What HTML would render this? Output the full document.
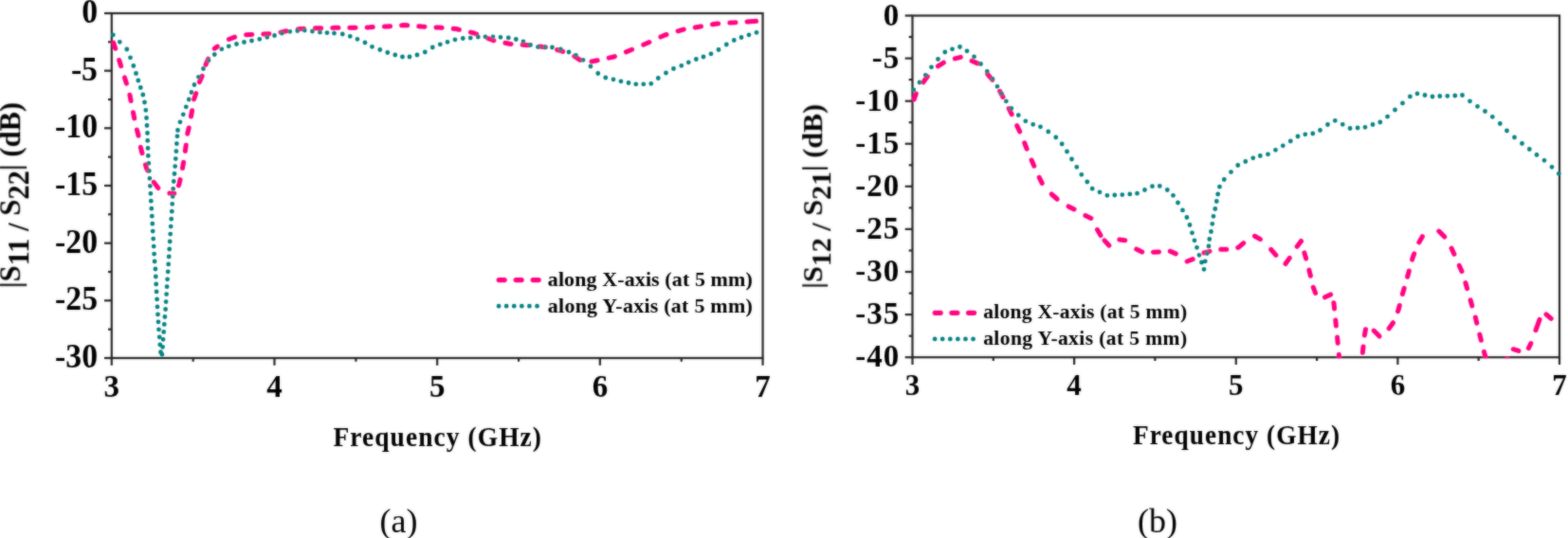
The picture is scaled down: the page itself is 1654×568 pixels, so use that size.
<!DOCTYPE html>
<html lang="en">
<head>
<meta charset="utf-8">
<title>S-parameters versus frequency</title>
<style>
html,body{margin:0;padding:0;background:#ffffff;}
body{width:1654px;height:568px;overflow:hidden;font-family:"Liberation Serif",serif;}
svg{display:block;}
</style>
</head>
<body>
<svg width="1654" height="568" viewBox="0 0 1654 568">
<rect x="0" y="0" width="1654" height="568" fill="#ffffff"/>
<defs><filter id="soft" x="0" y="0" width="1654" height="568" filterUnits="userSpaceOnUse"><feGaussianBlur in="SourceGraphic" stdDeviation="0.8" result="b"/><feComposite in="SourceGraphic" in2="b" operator="arithmetic" k1="0" k2="0.45" k3="0.55" k4="0"/></filter></defs>
<g filter="url(#soft)">
<g stroke="#262626" stroke-width="2.2" fill="none" stroke-linecap="butt">
<rect x="117.8" y="14" width="686.8000000000001" height="364"/>
<line x1="117.8" y1="378" x2="117.8" y2="385.8"/>
<line x1="203.7" y1="378" x2="203.7" y2="381.8"/>
<line x1="289.5" y1="378" x2="289.5" y2="385.8"/>
<line x1="375.4" y1="378" x2="375.4" y2="381.8"/>
<line x1="461.2" y1="378" x2="461.2" y2="385.8"/>
<line x1="547.1" y1="378" x2="547.1" y2="381.8"/>
<line x1="632.9" y1="378" x2="632.9" y2="385.8"/>
<line x1="718.8" y1="378" x2="718.8" y2="381.8"/>
<line x1="804.6" y1="378" x2="804.6" y2="385.8"/>
<line x1="117.8" y1="14.0" x2="110.0" y2="14.0"/>
<line x1="117.8" y1="44.3" x2="114.0" y2="44.3"/>
<line x1="117.8" y1="74.7" x2="110.0" y2="74.7"/>
<line x1="117.8" y1="105.0" x2="114.0" y2="105.0"/>
<line x1="117.8" y1="135.3" x2="110.0" y2="135.3"/>
<line x1="117.8" y1="165.7" x2="114.0" y2="165.7"/>
<line x1="117.8" y1="196.0" x2="110.0" y2="196.0"/>
<line x1="117.8" y1="226.3" x2="114.0" y2="226.3"/>
<line x1="117.8" y1="256.7" x2="110.0" y2="256.7"/>
<line x1="117.8" y1="287.0" x2="114.0" y2="287.0"/>
<line x1="117.8" y1="317.3" x2="110.0" y2="317.3"/>
<line x1="117.8" y1="347.7" x2="114.0" y2="347.7"/>
<line x1="117.8" y1="378.0" x2="110.0" y2="378.0"/>
</g>
<g font-family="'Liberation Serif', serif" font-weight="bold" font-size="33.75" letter-spacing="0" fill="#000">
<text x="117.8" y="419" text-anchor="middle" letter-spacing="0" font-size="33">3</text>
<text x="289.5" y="419" text-anchor="middle" letter-spacing="0" font-size="33">4</text>
<text x="461.2" y="419" text-anchor="middle" letter-spacing="0" font-size="33">5</text>
<text x="632.9" y="419" text-anchor="middle" letter-spacing="0" font-size="33">6</text>
<text x="804.6" y="419" text-anchor="middle" letter-spacing="0" font-size="33">7</text>
<text transform="translate(103,23.9) scale(1,1.035)" text-anchor="end">0</text>
<text transform="translate(103,84.6) scale(1,1.035)" text-anchor="end">-5</text>
<text transform="translate(103,145.2) scale(1,1.035)" text-anchor="end">-10</text>
<text transform="translate(103,205.9) scale(1,1.035)" text-anchor="end">-15</text>
<text transform="translate(103,266.6) scale(1,1.035)" text-anchor="end">-20</text>
<text transform="translate(103,327.2) scale(1,1.035)" text-anchor="end">-25</text>
<text transform="translate(103,387.9) scale(1,1.035)" text-anchor="end">-30</text>
</g>
<g stroke="#262626" stroke-width="2.2" fill="none" stroke-linecap="butt">
<rect x="962.5" y="16.5" width="682.5" height="360.7"/>
<line x1="962.5" y1="377.2" x2="962.5" y2="385.0"/>
<line x1="1047.8" y1="377.2" x2="1047.8" y2="381.0"/>
<line x1="1133.1" y1="377.2" x2="1133.1" y2="385.0"/>
<line x1="1218.4" y1="377.2" x2="1218.4" y2="381.0"/>
<line x1="1303.8" y1="377.2" x2="1303.8" y2="385.0"/>
<line x1="1389.1" y1="377.2" x2="1389.1" y2="381.0"/>
<line x1="1474.4" y1="377.2" x2="1474.4" y2="385.0"/>
<line x1="1559.7" y1="377.2" x2="1559.7" y2="381.0"/>
<line x1="1645.0" y1="377.2" x2="1645.0" y2="385.0"/>
<line x1="962.5" y1="16.5" x2="954.7" y2="16.5"/>
<line x1="962.5" y1="39.0" x2="958.7" y2="39.0"/>
<line x1="962.5" y1="61.6" x2="954.7" y2="61.6"/>
<line x1="962.5" y1="84.1" x2="958.7" y2="84.1"/>
<line x1="962.5" y1="106.7" x2="954.7" y2="106.7"/>
<line x1="962.5" y1="129.2" x2="958.7" y2="129.2"/>
<line x1="962.5" y1="151.8" x2="954.7" y2="151.8"/>
<line x1="962.5" y1="174.3" x2="958.7" y2="174.3"/>
<line x1="962.5" y1="196.8" x2="954.7" y2="196.8"/>
<line x1="962.5" y1="219.4" x2="958.7" y2="219.4"/>
<line x1="962.5" y1="241.9" x2="954.7" y2="241.9"/>
<line x1="962.5" y1="264.5" x2="958.7" y2="264.5"/>
<line x1="962.5" y1="287.0" x2="954.7" y2="287.0"/>
<line x1="962.5" y1="309.6" x2="958.7" y2="309.6"/>
<line x1="962.5" y1="332.1" x2="954.7" y2="332.1"/>
<line x1="962.5" y1="354.7" x2="958.7" y2="354.7"/>
<line x1="962.5" y1="377.2" x2="954.7" y2="377.2"/>
</g>
<g font-family="'Liberation Serif', serif" font-weight="bold" font-size="33" letter-spacing="1.0" fill="#000">
<text x="962.5" y="417" text-anchor="middle" letter-spacing="0" font-size="31">3</text>
<text x="1133.1" y="417" text-anchor="middle" letter-spacing="0" font-size="31">4</text>
<text x="1303.8" y="417" text-anchor="middle" letter-spacing="0" font-size="31">5</text>
<text x="1474.4" y="417" text-anchor="middle" letter-spacing="0" font-size="31">6</text>
<text x="1645.0" y="417" text-anchor="middle" letter-spacing="0" font-size="31">7</text>
<text transform="translate(949.3,26.6) scale(1,1.0)" text-anchor="end">0</text>
<text transform="translate(949.3,71.6) scale(1,1.0)" text-anchor="end">-5</text>
<text transform="translate(949.3,116.7) scale(1,1.0)" text-anchor="end">-10</text>
<text transform="translate(949.3,161.8) scale(1,1.0)" text-anchor="end">-15</text>
<text transform="translate(949.3,206.9) scale(1,1.0)" text-anchor="end">-20</text>
<text transform="translate(949.3,252.0) scale(1,1.0)" text-anchor="end">-25</text>
<text transform="translate(949.3,297.1) scale(1,1.0)" text-anchor="end">-30</text>
<text transform="translate(949.3,342.2) scale(1,1.0)" text-anchor="end">-35</text>
<text transform="translate(949.3,387.3) scale(1,1.0)" text-anchor="end">-40</text>
</g>
<clipPath id="ca"><rect x="114.8" y="14" width="692.8000000000001" height="365"/></clipPath>
<g clip-path="url(#ca)" fill="none" stroke-linejoin="round">
<path d="M119.7,45.1 L121.7,51.3M125.7,63.5 L127.6,69.7M131.5,81.9 L133.4,88.1M136.9,100.3 L138.1,106.5M140.5,118.7 L141.7,124.9M144.4,137.1 L145.5,141.0 L146.0,143.3M148.4,155.5 L148.8,157.5 L150.0,161.7M153.5,173.9 L154.5,177.5 L155.8,180.1M162.1,192.3 L166.9,198.5M178.9,204.0 L183.8,204.3" stroke="#ff0080" stroke-width="5.0" stroke-linecap="round"/>
<path d="M188.4,195.8 L188.8,195.0 L190.0,189.6M192.5,177.6 L192.5,177.5 L193.6,171.4M195.4,159.4 L196.2,153.2M197.8,141.2 L198.0,140.0 L199.2,135.0M201.5,123.0 L202.6,116.8M204.6,104.8 L206.7,98.6M210.4,86.6 L213.1,80.4M217.0,68.4 L219.6,62.2" stroke="#ff0080" stroke-width="5.0" stroke-linecap="round"/>
<path d="M226.3,51.3 L229.4,49.1M241.4,41.5 L247.6,39.2M259.6,36.7 L265.8,36.4M277.8,36.1 L284.0,35.7M296.0,34.1 L302.2,32.8M314.3,30.7 L320.5,30.2M332.5,29.7 L338.7,29.7M350.7,29.4 L353.8,29.3 L356.9,29.3M368.9,29.3 L371.3,29.3 L375.1,29.2M387.1,28.9 L390.0,28.8 L393.3,28.6M405.4,28.1 L407.5,28.0 L411.6,27.7M423.6,26.7 L426.3,26.5 L429.8,26.8M441.8,27.7 L445.0,28.0 L448.0,28.2M460.0,28.9 L462.5,29.0 L466.2,29.3M478.2,30.3 L481.3,30.5 L484.4,31.3M496.5,34.1 L500.0,35.0 L502.7,36.0M514.7,40.5 L520.0,42.5 L520.9,42.7M532.9,45.3 L537.5,46.3 L539.1,46.4M551.1,47.2 L555.0,47.5 L557.3,47.8M569.3,49.1 L572.5,49.5 L575.5,49.8M587.6,52.5 L592.5,53.8 L593.8,54.3M605.8,59.3 L612.0,63.3M624.0,65.0 L630.0,63.8 L630.2,63.8M642.2,61.1 L647.5,60.0 L648.4,59.6M660.4,54.8 L665.0,53.0 L666.6,52.3M678.7,47.2 L683.8,45.0 L684.9,44.5M696.9,39.0 L701.3,37.0 L703.1,36.5M715.1,32.8 L720.0,31.3 L721.3,31.1M733.3,29.0 L737.5,28.3 L739.5,27.9M751.5,25.8 L756.3,25.0 L757.7,24.9M769.8,24.1 L775.0,23.8 L776.0,23.7M788.0,22.9 L793.8,22.5 L794.2,22.5" stroke="#ff0080" stroke-width="5.0" stroke-linecap="round"/>
<path d="M794.5,22.5 L797.6,22.3" stroke="#ff0080" stroke-width="5.0" stroke-linecap="round"/>
<path d="M119.3,36.8h0.01M126.3,44.3h0.01M133.8,52.0h0.01M137.5,60.8h0.01M140.8,69.5h0.01M143.5,77.5h0.01M145.8,85.0h0.01M148.3,92.5h0.01M150.8,100.0h0.01M152.5,108.0h0.01M153.8,116.3h0.01M154.5,124.5h0.01M155.0,132.5h0.01" stroke="#007f80" stroke-width="4.8" stroke-linecap="round"/>
<path d="M155.5,140.5h0.01M155.7,148.4h0.01M156.0,156.4h0.01M156.3,164.4h0.01M156.8,172.4h0.01M157.3,180.3h0.01M157.9,188.3h0.01M158.4,196.3h0.01M158.9,204.3h0.01M159.3,212.2h0.01M159.8,220.2h0.01M160.3,228.2h0.01M160.8,236.2h0.01M161.2,244.1h0.01M161.7,252.1h0.01M162.2,260.1h0.01M162.6,268.1h0.01M163.1,276.0h0.01M163.9,284.0h0.01M164.3,292.0h0.01M164.7,300.0h0.01M165.1,307.9h0.01M165.6,315.9h0.01M166.0,323.9h0.01M166.5,331.9h0.01M167.0,339.8h0.01M167.5,347.8h0.01M168.2,355.8h0.01M168.8,363.8h0.01M169.5,371.7h0.01" stroke="#007f80" stroke-width="4.8" stroke-linecap="round"/>
<path d="M186.4,151.7h0.01M185.9,159.7h0.01M185.3,167.6h0.01M184.7,175.6h0.01M184.0,183.5h0.01M183.3,191.5h0.01M182.7,199.4h0.01M182.2,207.4h0.01M181.7,215.3h0.01M181.3,223.2h0.01M180.7,231.2h0.01M180.2,239.1h0.01M179.7,247.1h0.01M179.2,255.0h0.01M178.7,263.0h0.01M178.2,270.9h0.01M177.7,278.9h0.01M177.2,286.8h0.01M176.6,294.8h0.01M176.1,302.7h0.01M175.6,310.6h0.01M175.1,318.6h0.01M174.6,326.5h0.01M173.9,334.5h0.01M173.3,342.4h0.01M172.7,350.4h0.01M172.1,358.3h0.01M171.6,366.3h0.01M170.9,374.2h0.01" stroke="#007f80" stroke-width="4.8" stroke-linecap="round"/>
<path d="M187.0,143.8h0.01M187.5,137.5h0.01M190.0,128.8h0.01M193.3,120.8h0.01M196.3,112.8h0.01M199.3,105.0h0.01M202.0,97.5h0.01M205.0,89.5h0.01M209.5,81.3h0.01M214.5,72.5h0.01M220.0,63.8h0.01M226.3,57.5h0.01M233.8,51.8h0.01M241.3,48.8h0.01M249.5,46.5h0.01M257.5,44.5h0.01M265.5,43.0h0.01M273.8,41.3h0.01M281.8,39.3h0.01M289.5,37.5h0.01M297.5,35.0h0.01M305.8,33.3h0.01M313.8,32.5h0.01M321.3,32.0h0.01M329.5,33.0h0.01M337.5,34.0h0.01M345.0,34.6h0.01M352.5,35.0h0.01M361.3,36.0h0.01M369.3,38.3h0.01M377.0,41.3h0.01M385.0,45.0h0.01M392.5,49.3h0.01M400.8,52.5h0.01M408.8,55.5h0.01M416.8,58.0h0.01M424.5,60.0h0.01M432.0,60.0h0.01M440.0,58.0h0.01M448.3,55.0h0.01M456.3,50.0h0.01M464.3,46.8h0.01M472.0,44.3h0.01M480.0,41.8h0.01M488.3,40.5h0.01M496.3,40.0h0.01M504.3,39.0h0.01M512.0,38.8h0.01M520.0,38.8h0.01M528.0,39.3h0.01M536.3,40.0h0.01M544.3,41.5h0.01M552.0,43.8h0.01M559.5,47.5h0.01M567.5,49.6h0.01M575.0,49.8h0.01M582.5,50.0h0.01M591.3,52.0h0.01M600.0,55.0h0.01M607.5,58.3h0.01M615.0,63.3h0.01M623.0,70.0h0.01M630.8,77.5h0.01M638.8,82.0h0.01M647.0,83.8h0.01M655.0,85.8h0.01M663.0,87.5h0.01M670.8,88.8h0.01M678.8,88.8h0.01M686.8,88.3h0.01M694.3,82.5h0.01M702.5,77.0h0.01M710.5,72.5h0.01M718.8,69.3h0.01M726.3,65.8h0.01M734.3,62.5h0.01M742.0,60.0h0.01M750.0,56.8h0.01M758.0,52.5h0.01M766.3,47.0h0.01M774.3,42.5h0.01M782.0,39.5h0.01M790.0,36.8h0.01M798.0,34.3h0.01" stroke="#007f80" stroke-width="4.8" stroke-linecap="round"/>
</g>
<clipPath id="cb"><rect x="959.5" y="16.5" width="688.5" height="361.7"/></clipPath>
<g clip-path="url(#cb)" fill="none" stroke-linejoin="round">
<path d="M964.2,105.0 L966.3,98.9M973.9,86.8 L978.3,80.7M989.4,69.8 L995.0,66.3 L995.4,66.1M1007.3,61.9 L1013.3,60.4M1025.1,64.2 L1031.1,66.9M1041.6,78.2 L1046.9,84.3M1054.6,96.3 L1058.0,102.5M1064.2,114.5 L1067.2,120.7M1072.7,132.7 L1075.7,138.9M1080.7,150.9 L1081.3,152.5 L1083.1,157.1M1088.1,169.1 L1090.8,175.2M1096.2,187.3 L1096.3,187.5 L1099.2,193.4M1109.2,205.0 L1115.0,210.0 L1115.2,210.2M1127.1,217.9 L1133.1,220.9M1144.9,227.5 L1150.9,230.5M1157.5,242.5 L1161.0,248.6" stroke="#ff0080" stroke-width="5.0" stroke-linecap="round"/>
<path d="M1165.0,253.9 L1170.0,259.2" stroke="#ff0080" stroke-width="5.0" stroke-linecap="round"/>
<path d="M1180.8,253.1 L1186.8,253.8M1198.7,263.1 L1204.7,266.1M1216.5,266.2 L1222.5,265.9M1234.3,265.2 L1240.3,267.9M1252.2,276.0 L1258.2,273.7M1270.0,267.0 L1270.0,267.0 L1276.0,265.3M1287.8,263.3 L1293.8,263.3M1305.7,261.4 L1306.3,261.3 L1311.7,256.7M1323.5,249.3 L1329.5,252.6M1340.7,263.3 L1345.9,269.4M1356.0,278.5 L1360.3,272.4M1368.2,260.3 L1372.5,254.5 L1372.6,254.8M1375.9,266.9 L1377.7,273.0M1380.9,285.1 L1382.4,291.2M1385.3,303.3 L1387.6,309.4M1397.6,313.8 L1403.6,310.9" stroke="#ff0080" stroke-width="5.0" stroke-linecap="round"/>
<path d="M1406.9,319.7 L1407.0,320.0 L1407.6,325.9M1408.8,337.9 L1409.4,344.0M1410.6,356.1 L1411.2,362.2M1412.3,374.3 L1412.5,377.0" stroke="#ff0080" stroke-width="5.0" stroke-linecap="round"/>
<path d="M1437.4,372.2 L1438.0,366.0M1439.4,354.0 L1440.5,347.8" stroke="#ff0080" stroke-width="5.0" stroke-linecap="round"/>
<path d="M1449.1,349.1 L1455.1,355.1" stroke="#ff0080" stroke-width="5.0" stroke-linecap="round"/>
<path d="M1465.2,346.8 L1469.5,340.7M1474.5,328.6 L1475.0,327.5 L1476.3,322.5M1479.4,310.5 L1481.2,304.3M1484.6,292.3 L1486.3,286.3 L1486.3,286.1M1489.6,274.1 L1490.0,272.5 L1491.7,267.9M1496.8,255.9 L1500.4,249.7" stroke="#ff0080" stroke-width="5.0" stroke-linecap="round"/>
<path d="M1517.8,244.1 L1523.8,250.1M1531.1,262.2 L1531.3,262.5 L1533.9,268.3M1539.3,280.4 L1542.0,286.5M1545.9,298.6 L1546.3,300.0 L1547.6,304.7M1551.1,316.8 L1551.3,317.5 L1552.8,322.9M1556.3,334.9 L1556.3,335.0 L1557.8,341.1M1560.8,353.1 L1561.3,355.0 L1562.4,359.3M1565.4,371.3 L1567.0,377.0" stroke="#ff0080" stroke-width="5.0" stroke-linecap="round"/>
<path d="M1589.4,379.6 L1589.8,378.8M1596.3,368.7 L1601.9,370.4M1612.4,367.6 L1614.8,362.6M1620.0,348.6 L1624.0,337.4M1631.0,331.8 L1636.2,336.4" stroke="#ff0080" stroke-width="5.0" stroke-linecap="round"/>
<path d="M963.8,95.0h0.01M970.0,87.0h0.01M976.3,79.3h0.01M982.5,70.8h0.01M989.5,62.5h0.01M996.8,55.0h0.01M1004.5,51.8h0.01M1012.5,49.5h0.01M1020.0,53.8h0.01M1027.5,60.0h0.01M1034.5,67.5h0.01M1041.3,75.5h0.01M1047.0,83.3h0.01M1052.0,91.3h0.01M1056.3,98.8h0.01M1061.3,106.8h0.01M1066.8,114.5h0.01M1074.3,121.6h0.01M1081.8,127.8h0.01M1089.7,131.3h0.01M1097.5,133.8h0.01M1105.8,139.0h0.01M1113.8,145.0h0.01M1120.2,152.0h0.01M1125.5,160.0h0.01M1130.5,168.0h0.01M1135.8,176.3h0.01M1140.8,184.3h0.01M1146.8,192.0h0.01M1152.2,199.2h0.01M1160.0,202.8h0.01M1167.9,206.3h0.01M1175.8,206.0h0.01M1183.8,205.6h0.01M1191.8,204.9h0.01M1199.5,204.2h0.01M1207.5,200.5h0.01M1215.5,196.7h0.01M1223.3,196.4h0.01M1231.3,200.5h0.01M1237.5,206.3h0.01M1242.5,214.0h0.01M1247.5,221.9h0.01M1251.9,229.5h0.01M1255.0,237.5h0.01M1257.5,245.8h0.01M1260.0,253.8h0.01M1262.5,261.3h0.01M1265.0,269.3h0.01M1267.5,277.0h0.01M1270.0,284.3h0.01M1271.3,275.8h0.01M1273.3,267.5h0.01M1275.0,260.0h0.01M1275.8,252.5h0.01M1277.5,244.5h0.01M1278.8,236.3h0.01M1280.0,228.3h0.01M1281.8,220.5h0.01M1283.3,212.5h0.01M1284.7,205.0h0.01M1286.5,197.2h0.01M1291.3,189.5h0.01M1298.5,181.6h0.01M1305.8,174.5h0.01M1313.8,170.5h0.01M1321.8,166.8h0.01M1329.3,164.5h0.01M1337.5,162.8h0.01M1345.5,158.3h0.01M1353.3,153.8h0.01M1361.3,149.0h0.01M1369.0,144.0h0.01M1376.8,141.8h0.01M1384.8,141.0h0.01M1392.5,137.5h0.01M1400.5,131.5h0.01M1408.3,127.3h0.01M1416.3,131.3h0.01M1424.1,135.5h0.01M1432.1,135.0h0.01M1440.0,134.3h0.01M1448.0,131.5h0.01M1455.8,129.0h0.01M1463.6,123.1h0.01M1471.5,116.0h0.01M1479.5,108.9h0.01M1487.4,101.9h0.01M1495.0,98.8h0.01M1503.0,100.5h0.01M1511.0,102.0h0.01M1518.8,101.5h0.01M1526.8,101.3h0.01M1534.8,101.0h0.01M1542.5,100.5h0.01M1550.5,106.8h0.01M1558.5,112.3h0.01M1566.5,117.5h0.01M1574.3,123.3h0.01M1582.3,130.5h0.01M1589.5,138.0h0.01M1597.5,145.0h0.01M1605.5,151.5h0.01M1613.3,157.5h0.01M1621.0,163.5h0.01M1629.0,169.3h0.01M1637.0,176.3h0.01M1644.3,183.3h0.01" stroke="#007f80" stroke-width="4.8" stroke-linecap="round"/>
</g>
<path d="M526.2,295.6 L571.2,295.6" stroke="#ff0080" stroke-width="5.2" stroke-dasharray="6 12.0" stroke-linecap="round" fill="none"/>
<path d="M526.1,323.2 L566.6,323.2" stroke="#007f80" stroke-width="4.8" stroke-dasharray="0.01 8.08" stroke-linecap="round" fill="none"/>
<g font-family="'Liberation Serif', serif" font-weight="bold" font-size="22" fill="#000">
<text x="577.8" y="301.8" textLength="216" lengthAdjust="spacing">along X-axis (at 5 mm)</text>
<text x="577.8" y="329.5" textLength="216" lengthAdjust="spacing">along Y-axis (at 5 mm)</text>
</g>
<path d="M986.2,330.3 L1030.6,330.3" stroke="#ff0080" stroke-width="5.2" stroke-dasharray="6 11.7" stroke-linecap="round" fill="none"/>
<path d="M986.1,357.9 L1026.6,357.9" stroke="#007f80" stroke-width="4.8" stroke-dasharray="0.01 8.08" stroke-linecap="round" fill="none"/>
<g font-family="'Liberation Serif', serif" font-weight="bold" font-size="21.6" fill="#000">
<text x="1037.2" y="336.1" textLength="214.9" lengthAdjust="spacing">along X-axis (at 5 mm)</text>
<text x="1037.2" y="363.6" textLength="214.9" lengthAdjust="spacing">along Y-axis (at 5 mm)</text>
</g>
<g font-family="'Liberation Serif', serif" font-weight="bold" font-size="30" fill="#000">
<text transform="translate(351.4,470.8) scale(1,1.07)" font-size="27.5" textLength="219.6" lengthAdjust="spacing">Frequency (GHz)</text>
<text transform="translate(1195,469.3) scale(1,1.05)" font-size="27.3" textLength="218" lengthAdjust="spacing">Frequency (GHz)</text>
<text transform="translate(21.2,304.2) rotate(-90)" font-size="30.6">|S<tspan dy="9.2">11 / </tspan><tspan dy="-9.2">S</tspan><tspan dy="9.2">22</tspan><tspan dy="-9.2">| (dB)</tspan></text>
<text transform="translate(867.2,304.7) rotate(-90)" font-size="30.1">|S<tspan dy="9.2">12 / </tspan><tspan dy="-9.2">S</tspan><tspan dy="9.2">21</tspan><tspan dy="-9.2">| (dB)</tspan></text>
</g>
<g font-family="'Liberation Serif', serif" font-size="36" fill="#000">
<text x="420.6" y="561.8" text-anchor="middle">(a)</text>
<text x="1221" y="561.8" text-anchor="middle">(b)</text>
</g>
</g>
</svg>
</body>
</html>
